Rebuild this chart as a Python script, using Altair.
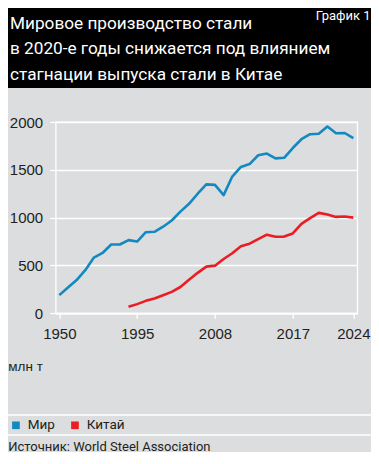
import altair as alt
import pandas as pd

# ---- data ----
periods = ["1950", "1955", "1960", "1965", "1970", "1975", "1980", "1985", "1990", "1995",
           "2000", "2001", "2002", "2003", "2004", "2005", "2006", "2007", "2008", "2009",
           "2010", "2011", "2012", "2013", "2014", "2015", "2016", "2017", "2018", "2019",
           "2020", "2021", "2022", "2023", "2024"]
world = [190, 270, 347, 451, 583, 631, 719, 719, 765, 750,
         848, 852, 905, 970, 1063, 1145, 1250, 1348, 1343, 1236,
         1430, 1530, 1560, 1652, 1670, 1620, 1626, 1728, 1820, 1872,
         1877, 1952, 1883, 1885, 1832]
china = [None, None, None, None, None, None, None, None, 68, 96,
         130, 154, 188, 224, 275, 350, 423, 488, 498, 568,
         628, 700, 728, 775, 822, 800, 802, 835, 935, 995,
         1050, 1032, 1008, 1012, 1000]
series_names = ["Мир", "Китай"]
tick_periods = ["1950", "1995", "2008", "2017", "2024"]
y_ticks = [0, 500, 1000, 1500, 2000]

title_lines = ["Мировое производство стали",
               "в 2020-е годы снижается под влиянием",
               "стагнации выпуска стали в Китае"]
chart_tag = "График 1"
unit_label = "млн т"
source_text = "Источник: World Steel Association"

BLUE = "#1389c0"
RED = "#ec1c24"
BG = "#dcdddf"
TXT = "#231f20"
NARROW = "Roboto, 'Liberation Sans', sans-serif"
REG = "'Liberation Sans', Arial, sans-serif"

rows = []
for i, p in enumerate(periods):
    rows.append({"idx": i, "period": p, "series": series_names[0], "value": world[i]})
    if china[i] is not None:
        rows.append({"idx": i, "period": p, "series": series_names[1], "value": china[i]})
df = pd.DataFrame(rows)

tick_idx = [periods.index(p) for p in tick_periods]
label_expr = " : ".join(f"datum.value == {i} ? '{p}'" for i, p in zip(tick_idx, tick_periods)) + " : ''"

# whole svg: 363 x 444 (fits the 379x464 window with the 8px page margin)
W, H = 301.6, 191.3
PL, PT = 47.7, 114
PR = 363 - PL - W
PB = 444 - PT - H

lines = alt.Chart(df).mark_line(strokeWidth=2.6, strokeJoin="round").encode(
    x=alt.X("idx:Q", scale=alt.Scale(domain=[-0.42, 34.46], nice=False, zero=False),
            axis=alt.Axis(values=tick_idx, labelExpr=label_expr, grid=False, title=None,
                          domainColor="white", domainWidth=1.3, tickColor="white",
                          tickWidth=1.3, tickSize=5, labelPadding=8, labelFontSize=15,
                          labelColor=TXT, labelFont=REG)),
    y=alt.Y("value:Q", scale=alt.Scale(domain=[0, 2000], nice=False),
            axis=alt.Axis(values=y_ticks, format="d", grid=True, gridColor="white",
                          gridWidth=1.3, domain=False, tickColor="white", tickWidth=1.3,
                          tickSize=6, labelPadding=7, labelFontSize=15, labelColor=TXT,
                          labelFont=REG, title=None)),
    color=alt.Color("series:N", scale=alt.Scale(domain=series_names, range=[BLUE, RED]),
                    legend=alt.Legend(title=None, orient="none", legendX=-46.5, legendY=296.5,
                                      direction="horizontal", symbolType="square",
                                      symbolSize=12, symbolStrokeWidth=4.2,
                                      labelFontSize=13.5, labelFont=NARROW,
                                      labelColor=TXT, labelOffset=5, columnPadding=9,
                                      padding=0)),
    order="idx:Q",
)

one = pd.DataFrame({"k": [0]})

header = alt.Chart(one).mark_rect(color="black").encode(
    x=alt.value(-PL), x2=alt.value(W + PR), y=alt.value(-PT), y2=alt.value(-34))

title = alt.Chart(one).mark_text(align="left", baseline="alphabetic", color="white",
                                 fontSize=17.2, font=NARROW, lineHeight=25.5).encode(
    x=alt.value(-45.7), y=alt.value(-93.5), text=alt.value(title_lines))

tag = alt.Chart(one).mark_text(align="right", baseline="alphabetic", color="white",
                               fontSize=13, font=NARROW).encode(
    x=alt.value(314.8), y=alt.value(-102.5), text=alt.value(chart_tag))

unit = alt.Chart(one).mark_text(align="left", baseline="alphabetic", color=TXT,
                                fontSize=13.5, font=REG).encode(
    x=alt.value(-47.4), y=alt.value(248.7), text=alt.value(unit_label))

rule1 = alt.Chart(one).mark_rule(color="white", strokeWidth=1.3).encode(
    x=alt.value(-PL), x2=alt.value(W + PR), y=alt.value(293))
rule2 = alt.Chart(one).mark_rule(color="white", strokeWidth=1.3).encode(
    x=alt.value(-PL), x2=alt.value(W + PR), y=alt.value(313))

source = alt.Chart(one).mark_text(align="left", baseline="alphabetic", color=TXT,
                                  fontSize=13, font=NARROW).encode(
    x=alt.value(-47.5), y=alt.value(328.5), text=alt.value(source_text))

chart = alt.layer(header, title, tag, rule1, rule2, unit, source, lines).properties(
    width=W, height=H,
    autosize=alt.AutoSizeParams(type="none"),
    padding={"left": PL, "top": PT, "right": PR, "bottom": PB},
).configure(background=BG).configure_view(stroke="white", strokeWidth=1.3)

chart.save("out.html", embed_options={"renderer": "svg", "actions": False})
